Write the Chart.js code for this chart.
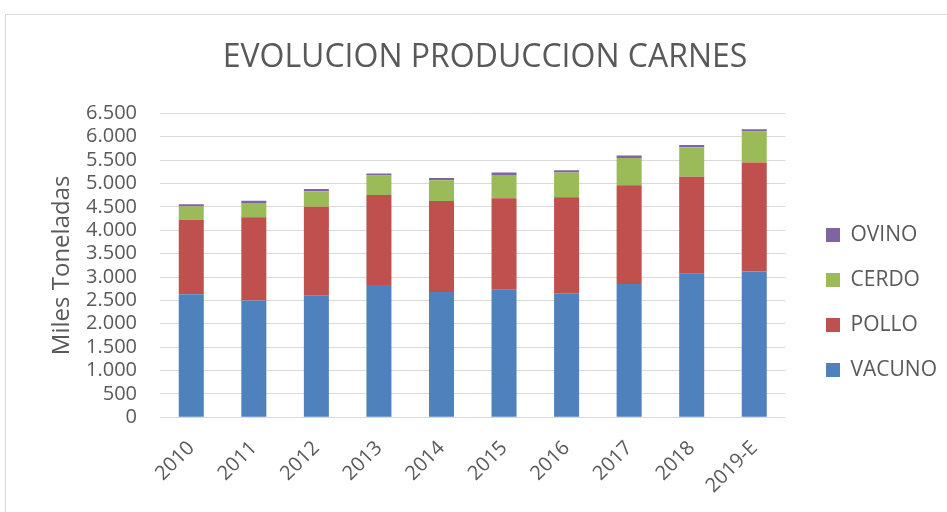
<!DOCTYPE html>
<html>
<head>
<meta charset="utf-8">
<script src="https://cdn.jsdelivr.net/npm/chart.js@4"></script>
<style>
  body { margin: 0; background: #fff; overflow: hidden; }
  #frame { position: absolute; left: 5px; top: 14px; width: 1000px; height: 600px; border: 1px solid #d9d9d9; }
  #wrap { position: absolute; left: 0; top: 0; width: 947px; height: 512px; }
</style>
</head>
<body>
<div id="frame"></div>
<div id="wrap"><canvas id="chart"></canvas></div>
<script>
const years = ['2010', '2011', '2012', '2013', '2014', '2015', '2016', '2017', '2018', '2019-E'];
const vacuno = [2630, 2500, 2600, 2830, 2680, 2730, 2655, 2850, 3070, 3120];
const pollo = [1595, 1780, 1905, 1925, 1945, 1955, 2050, 2115, 2075, 2330];
const cerdo = [285, 305, 330, 415, 445, 500, 530, 580, 630, 665];
const ovino = [45, 45, 50, 45, 50, 50, 50, 52, 50, 45];
const yMax = 6500;
const yStep = 500;

const textColor = '#595959';
const gridColor = '#d9d9d9';
Chart.defaults.font.family = "'Open Sans', 'Noto Sans', sans-serif";
Chart.defaults.color = textColor;

function fmt(v) {
  return String(v).replace(/\B(?=(\d{3})+(?!\d))/g, '.');
}

const ctx = document.getElementById('chart').getContext('2d');
new Chart(ctx, {
  type: 'bar',
  data: {
    labels: years,
    datasets: [
      { label: 'VACUNO', data: vacuno, backgroundColor: '#4f81bd' },
      { label: 'POLLO', data: pollo, backgroundColor: '#c0504d' },
      { label: 'CERDO', data: cerdo, backgroundColor: '#9bbb59' },
      { label: 'OVINO', data: ovino, backgroundColor: '#8064a2' },
    ],
  },
  options: {
    responsive: true,
    maintainAspectRatio: false,
    animation: false,
    layout: { padding: { left: 23, right: 0, top: 0, bottom: 0 } },
    datasets: { bar: { barPercentage: 0.4, categoryPercentage: 1, borderWidth: 0 } },
    scales: {
      y: {
        stacked: true,
        min: 0,
        max: yMax,
        ticks: { stepSize: yStep, autoSkip: false, padding: 23, font: { size: 20 }, callback: v => fmt(v) },
        grid: { color: gridColor, drawTicks: false },
        border: { display: false },
        title: { display: true, text: 'Miles Toneladas', font: { size: 24 }, padding: { top: 25, bottom: 4 } },
        afterFit: s => { s.width = 137; }
      },
      yPad: {
        type: 'linear',
        position: 'right',
        grid: { display: false },
        ticks: { display: false },
        border: { display: false },
        afterFit: s => { s.width = 16.5; }
      },
      x: {
        stacked: true,
        grid: { display: false },
        border: { display: false },
        ticks: { minRotation: 45, maxRotation: 45, padding: 11, font: { size: 20 } },
        afterFit: s => { s.height = 94.7; }
      }
    },
    plugins: {
      title: {
        display: true,
        text: 'EVOLUCION PRODUCCION CARNES',
        font: { size: 32, weight: 'normal' },
        color: textColor,
        padding: { top: 39, bottom: 36 }
      },
      legend: {
        position: 'right',
        reverse: true,
        title: { display: true, text: ' ', font: { size: 12 }, padding: 39.3 },
        labels: { boxWidth: 14, boxHeight: 14, padding: 24, font: { size: 21 }, color: textColor }
      },
      tooltip: { enabled: false }
    }
  }
});
</script>
</body>
</html>
